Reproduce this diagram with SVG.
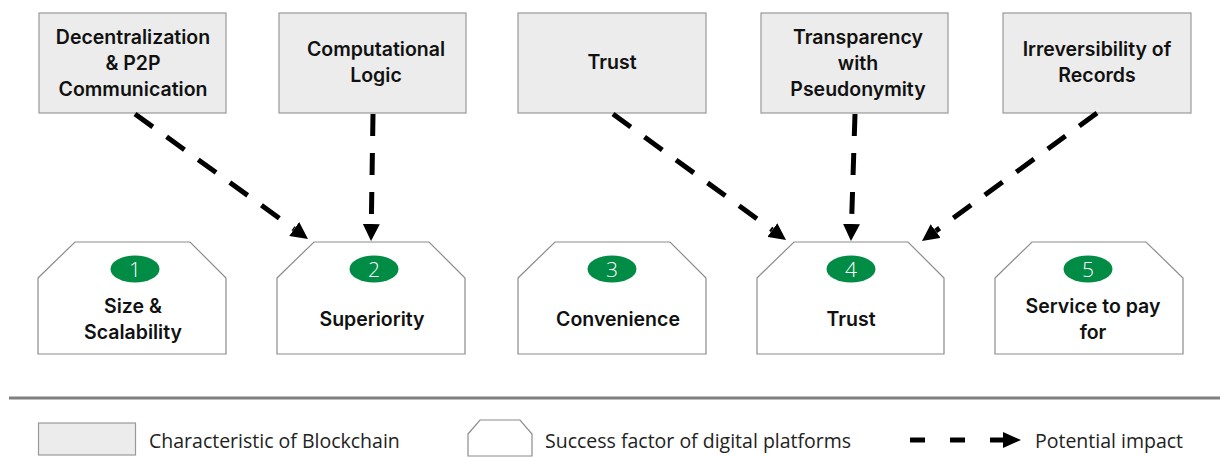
<svg xmlns="http://www.w3.org/2000/svg" width="1229" height="457" viewBox="0 0 1229 457">
<style>
.char{fill:#ececec;stroke:#999;stroke-width:1.2}
.succ{fill:#fff;stroke:#8c8c8c;stroke-width:1.2}
.lbl{font-family:Inter,"Liberation Sans",sans-serif;font-weight:600;font-size:19.5px;fill:#111;text-anchor:middle}
.num{font-family:"Open Sans","Liberation Sans",sans-serif;font-weight:300;font-size:21px;fill:#fff;text-anchor:middle}
.badge{fill:#008c45}
.leg{font-family:"Open Sans","Liberation Sans",sans-serif;font-size:19.5px;fill:#222}
.con{fill:none;stroke:#000;stroke-width:5;stroke-dasharray:22 17}
</style>
<defs>
<marker id="ah" markerUnits="userSpaceOnUse" markerWidth="17" markerHeight="17" refX="0" refY="8.5" orient="auto" viewBox="0 0 17 17">
<path d="M0,0 L17,8.5 L0,17 Z" fill="#000"/>
</marker>
</defs>

<g id="char-decentralization">
<rect class="char" x="39" y="13" width="187" height="100"/>
<text class="lbl" x="133" y="44">Decentralization</text>
<text class="lbl" x="133" y="70">&amp; P2P</text>
<text class="lbl" x="133" y="96">Communication</text>
</g>
<g id="char-computational-logic">
<rect class="char" x="279" y="13" width="187" height="100"/>
<text class="lbl" x="376" y="56">Computational</text>
<text class="lbl" x="376" y="82">Logic</text>
</g>
<g id="char-trust">
<rect class="char" x="518" y="13" width="188" height="100"/>
<text class="lbl" x="612" y="69">Trust</text>
</g>
<g id="char-transparency">
<rect class="char" x="761" y="13" width="187" height="100"/>
<text class="lbl" x="858" y="44">Transparency</text>
<text class="lbl" x="858" y="70">with</text>
<text class="lbl" x="858" y="96">Pseudonymity</text>
</g>
<g id="char-irreversibility">
<rect class="char" x="1003" y="13" width="188" height="100"/>
<text class="lbl" x="1097" y="56">Irreversibility of</text>
<text class="lbl" x="1097" y="82">Records</text>
</g>

<g id="sf-1">
<path class="succ" d="M38,278 L75,242 L190,242 L226,278 L226,354 L38,354 Z"/>
<ellipse class="badge" cx="135" cy="269" rx="24.5" ry="13.5"/>
<text class="num" x="135" y="276.5">1</text>
<text class="lbl" x="133" y="313">Size &amp;</text>
<text class="lbl" x="133" y="339">Scalability</text>
</g>
<g id="sf-2">
<path class="succ" d="M277,278 L314,242 L429,242 L465,278 L465,354 L277,354 Z"/>
<ellipse class="badge" cx="374" cy="269" rx="24.5" ry="13.5"/>
<text class="num" x="374" y="276.5">2</text>
<text class="lbl" x="372" y="326">Superiority</text>
</g>
<g id="sf-3">
<path class="succ" d="M518,278 L555,242 L670,242 L706,278 L706,354 L518,354 Z"/>
<ellipse class="badge" cx="612" cy="269" rx="24.5" ry="13.5"/>
<text class="num" x="612" y="276.5">3</text>
<text class="lbl" x="618" y="326">Convenience</text>
</g>
<g id="sf-4">
<path class="succ" d="M757,278 L794,242 L908,242 L944,278 L944,354 L757,354 Z"/>
<ellipse class="badge" cx="851" cy="269" rx="24.5" ry="13.5"/>
<text class="num" x="851" y="276.5">4</text>
<text class="lbl" x="851" y="326">Trust</text>
</g>
<g id="sf-5">
<path class="succ" d="M995,278 L1032,242 L1146,242 L1183,278 L1183,354 L995,354 Z"/>
<ellipse class="badge" cx="1088" cy="269" rx="24.5" ry="13.5"/>
<text class="num" x="1088" y="276.5">5</text>
<text class="lbl" x="1093" y="313">Service to pay</text>
<text class="lbl" x="1093" y="339">for</text>
</g>

<g id="connectors">
<path class="con" d="M135,114 L294.2,229" marker-end="url(#ah)"/>
<path class="con" d="M373,114 L371.3,224" marker-end="url(#ah)"/>
<path class="con" d="M613,114 L772.3,230" marker-end="url(#ah)"/>
<path class="con" d="M855,114 L851.5,224" marker-end="url(#ah)"/>
<path class="con" d="M1097,113 L935.7,231" marker-end="url(#ah)"/>
</g>

<g id="legend">
<line x1="9" y1="398" x2="1220" y2="398" stroke="#808080" stroke-width="3"/>
<rect class="char" x="38.5" y="423" width="97" height="32"/>
<text class="leg" x="149" y="448">Characteristic of Blockchain</text>
<path class="succ" d="M468,434 L480,420 L520,420 L532,434 L532,456 L468,456 Z"/>
<text class="leg" x="545" y="448">Success factor of digital platforms</text>
<line x1="910" y1="440" x2="1003" y2="440" stroke="#000" stroke-width="5" stroke-dasharray="15 25"/>
<path d="M1003,432 L1021,440 L1003,448 Z" fill="#000"/>
<text class="leg" x="1035" y="448">Potential impact</text>
</g>
</svg>
